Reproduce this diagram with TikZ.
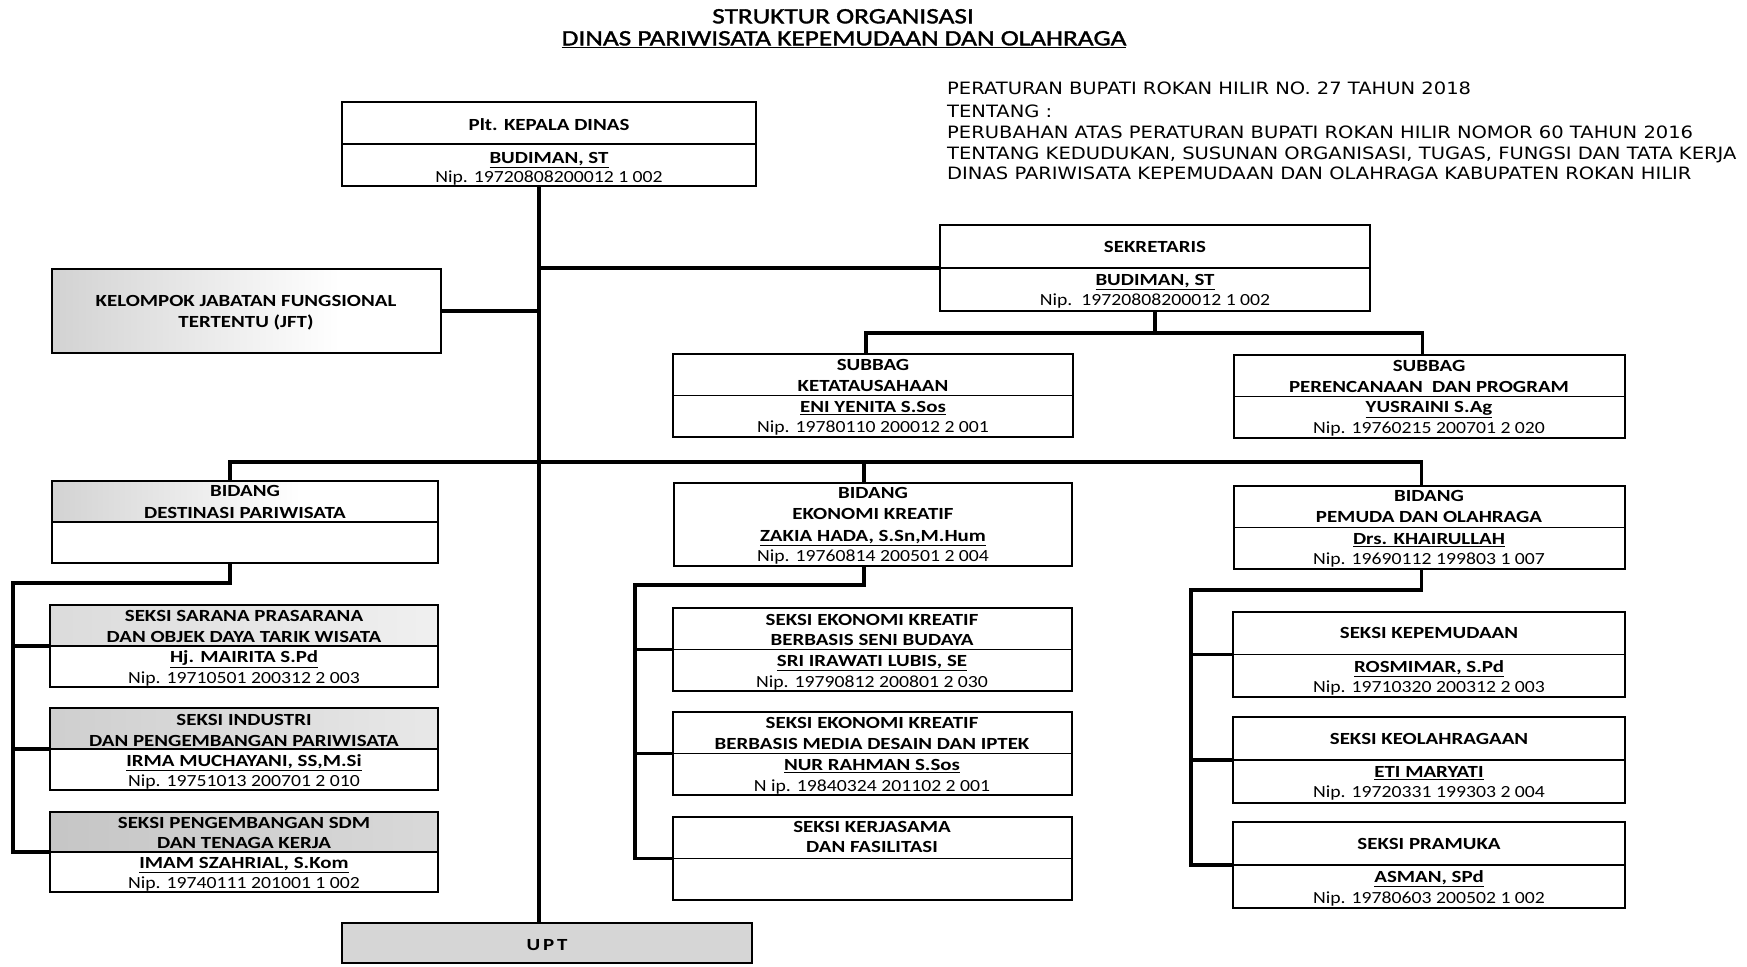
\documentclass[tikz,border=0pt]{standalone}
\usepackage{fontspec}
\setmainfont{Carlito}[FakeStretch=1.16, BoldFeatures={FakeStretch=1.23}]
\newfontfamily\titlefont{Carlito}[FakeStretch=1.24, FakeBold=1.5]
\newfontfamily\regfont{DejaVu Sans}[FakeStretch=1.148]
\usetikzlibrary{calc}
\tikzset{
  orgbox/.style={draw, line width=2.1pt, rectangle, inner sep=0pt, outer sep=0pt},
  divl/.style={line width=1.9pt},
  conn/.style={line width=3.1pt},
  tb/.style={font=\fontsize{17}{20}\selectfont\bfseries, inner sep=0pt, anchor=mid, yshift=-3.5pt},
  tn/.style={font=\fontsize{17}{20}\selectfont, inner sep=0pt, anchor=mid, yshift=-3.5pt},
  ttl/.style={font=\titlefont\fontsize{22}{26}\selectfont, inner sep=0pt, anchor=mid, yshift=-4pt},
  reg/.style={font=\regfont\fontsize{17}{20}\selectfont, inner sep=0pt, anchor=mid west, yshift=-4pt},
}
\newcommand\obox[5]{\node[orgbox, minimum width={(#4-#2)*1pt}, minimum height={(#5-#3)*1pt}] (#1) at ({(#2+#4)/2},{(#3+#5)/2}) {};}
\begin{document}
\begin{tikzpicture}[x=1pt,y=-1pt]
\fill[white] (0,0) rectangle (1747,966);
\useasboundingbox (0,0) rectangle (1747,966);

% shaded backgrounds
\shade[left color=gray!35, right color=white] (52,269) rectangle (340,353);
\shade[left color=gray!35, right color=white] (52,481) rectangle (300,522);
\shade[left color=gray!28, right color=gray!12] (50,605) rectangle (438,646);
\shade[left color=gray!38, right color=gray!18] (50,708) rectangle (438,749);
\shade[left color=gray!45, right color=gray!30] (50,812) rectangle (438,852);
\fill[gray!32] (342,923) rectangle (752,963);

% title
\node[ttl] (t1) at (843,17) {STRUKTUR ORGANISASI};
\node[ttl] (t2) at (844,39) {\underline{DINAS PARIWISATA KEPEMUDAAN DAN OLAHRAGA}};

% regulation
\node[reg] (r1) at (947,88) {PERATURAN BUPATI ROKAN HILIR NO. 27 TAHUN 2018};
\node[reg] (r2) at (947,111) {TENTANG :};
\node[reg] (r3) at (947,132) {PERUBAHAN ATAS PERATURAN BUPATI ROKAN HILIR NOMOR 60 TAHUN 2016};
\node[reg] (r4) at (947,153) {TENTANG KEDUDUKAN, SUSUNAN ORGANISASI, TUGAS, FUNGSI DAN TATA KERJA};
\node[reg] (r5) at (947,173) {DINAS PARIWISATA KEPEMUDAAN DAN OLAHRAGA KABUPATEN ROKAN HILIR};

% boxes
\obox{kd}{342}{102}{756}{186}
\obox{sek}{940}{225}{1370}{311}
\obox{jft}{52}{269}{441}{353}
\obox{sbk}{673}{354}{1073}{437}
\obox{sbp}{1234}{355}{1625}{438}
\obox{bdes}{52}{481}{438}{563}
\obox{bek}{674}{483}{1072}{566}
\obox{bpm}{1234}{486}{1625}{569}
\obox{sar}{50}{605}{438}{687}
\obox{ind}{50}{708}{438}{790}
\obox{sdm}{50}{812}{438}{892}
\obox{sbud}{673}{608}{1072}{691}
\obox{smed}{673}{712}{1072}{795}
\obox{sker}{673}{817}{1072}{900}
\obox{skep}{1233}{612}{1625}{697}
\obox{solr}{1233}{717}{1625}{803}
\obox{spra}{1233}{822}{1625}{908}
\obox{upt}{342}{923}{752}{963}

% dividers
\foreach \b in {kd,sek,sbk,sbp,bdes,bpm,sar,ind,sdm,sbud,smed,sker,skep,solr,spra}
  \draw[divl] (\b.west) -- (\b.east);

% connectors
\coordinate (tk) at (539,0);
\draw[conn] (kd.south -| tk) -- (upt.north -| tk);
\draw[conn] (sek.west -| tk) -- (sek.west);
\draw[conn] (jft.east) -- (jft.east -| tk);
\draw[conn] (sek.south) -- ++(0,22);
\draw[conn] ([xshift=-7pt]sbk.north) -- ++(0,-21) -| ([xshift=-7pt]sbp.north);
\draw[conn] ([xshift=-15pt]bdes.north) -- ++(0,-19) -| ([xshift=-8pt]bpm.north);
\draw[conn] ([xshift=-9pt]bek.north) -- ++(0,-21);
\draw[conn] ([xshift=-15pt]bdes.south) -- ++(0,20) -| ([xshift=-37pt]sdm.west) -- (sdm.west);
\draw[conn] (sar.west) -- ++(-37,0);
\draw[conn] (ind.west) -- ++(-37,0);
\draw[conn] ([xshift=-9pt]bek.south) -- ++(0,19) -| ([xshift=-38pt]sker.west) -- (sker.west);
\draw[conn] (sbud.west) -- ++(-38,0);
\draw[conn] (smed.west) -- ++(-38,0);
\draw[conn] ([xshift=-8pt]bpm.south) -- ++(0,21) -| ([xshift=-42pt]spra.west) -- (spra.west);
\draw[conn] (skep.west) -- ++(-42,0);
\draw[conn] (solr.west) -- ++(-42,0);

% texts
\node[tb] (kd1) at (549,125) {Plt. KEPALA DINAS};
\node[tb] (kd2) at (549,158) {\underline{BUDIMAN, ST}};
\node[tn] (kd3) at (549,177) {Nip. 19720808200012 1 002};

\node[tb] (sek1) at (1155,247) {SEKRETARIS};
\node[tb] (sek2) at (1155,280) {\underline{BUDIMAN, ST}};
\node[tn] (sek3) at (1155,300) {Nip.\ \ 19720808200012 1 002};

\node[tb] (jft1) at (246,301) {KELOMPOK JABATAN FUNGSIONAL};
\node[tb] (jft2) at (246,322) {TERTENTU (JFT)};

\node[tb] (sbk1) at (873,365) {SUBBAG};
\node[tb] (sbk2) at (873,386) {KETATAUSAHAAN};
\node[tb] (sbk3) at (873,407) {\underline{ENI YENITA S.Sos}};
\node[tn] (sbk4) at (873,427) {Nip. 19780110 200012 2 001};

\node[tb] (sbp1) at (1429,366) {SUBBAG};
\node[tb] (sbp2) at (1429,387) {PERENCANAAN\ \ DAN PROGRAM};
\node[tb] (sbp3) at (1429,407) {\underline{YUSRAINI S.Ag}};
\node[tn] (sbp4) at (1429,428) {Nip. 19760215 200701 2 020};

\node[tb] (bdes1) at (245,491) {BIDANG};
\node[tb] (bdes2) at (245,513) {DESTINASI PARIWISATA};

\node[tb] (bek1) at (873,493) {BIDANG};
\node[tb] (bek2) at (873,514) {EKONOMI KREATIF};
\node[tb] (bek3) at (873,536) {\underline{ZAKIA HADA, S.Sn,M.Hum}};
\node[tn] (bek4) at (873,556) {Nip. 19760814 200501 2 004};

\node[tb] (bpm1) at (1429,496) {BIDANG};
\node[tb] (bpm2) at (1429,517) {PEMUDA DAN OLAHRAGA};
\node[tb] (bpm3) at (1429,539) {\underline{Drs. KHAIRULLAH}};
\node[tn] (bpm4) at (1429,559) {Nip. 19690112 199803 1 007};

\node[tb] (sar1) at (244,616) {SEKSI SARANA PRASARANA};
\node[tb] (sar2) at (244,637) {DAN OBJEK DAYA TARIK WISATA};
\node[tb] (sar3) at (244,657) {\underline{Hj. MAIRITA S.Pd}};
\node[tn] (sar4) at (244,678) {Nip. 19710501 200312 2 003};

\node[tb] (ind1) at (244,720) {SEKSI INDUSTRI};
\node[tb] (ind2) at (244,741) {DAN PENGEMBANGAN PARIWISATA};
\node[tb] (ind3) at (244,761) {\underline{IRMA MUCHAYANI, SS,M.Si}};
\node[tn] (ind4) at (244,781) {Nip. 19751013 200701 2 010};

\node[tb] (sdm1) at (244,823) {SEKSI PENGEMBANGAN SDM};
\node[tb] (sdm2) at (244,843) {DAN TENAGA KERJA};
\node[tb] (sdm3) at (244,863) {\underline{IMAM SZAHRIAL, S.Kom}};
\node[tn] (sdm4) at (244,883) {Nip. 19740111 201001 1 002};

\node[tb] (sbud1) at (872,620) {SEKSI EKONOMI KREATIF};
\node[tb] (sbud2) at (872,640) {BERBASIS SENI BUDAYA};
\node[tb] (sbud3) at (872,661) {\underline{SRI IRAWATI LUBIS, SE}};
\node[tn] (sbud4) at (872,682) {Nip. 19790812 200801 2 030};

\node[tb] (smed1) at (872,723) {SEKSI EKONOMI KREATIF};
\node[tb] (smed2) at (872,744) {BERBASIS MEDIA DESAIN DAN IPTEK};
\node[tb] (smed3) at (872,765) {\underline{NUR RAHMAN S.Sos}};
\node[tn] (smed4) at (872,786) {N ip. 19840324 201102 2 001};

\node[tb] (sker1) at (872,827) {SEKSI KERJASAMA};
\node[tb] (sker2) at (872,847) {DAN FASILITASI};

\node[tb] (skep1) at (1429,633) {SEKSI KEPEMUDAAN};
\node[tb] (skep2) at (1429,667) {\underline{ROSMIMAR, S.Pd}};
\node[tn] (skep3) at (1429,687) {Nip. 19710320 200312 2 003};

\node[tb] (solr1) at (1429,739) {SEKSI KEOLAHRAGAAN};
\node[tb] (solr2) at (1429,772) {\underline{ETI MARYATI}};
\node[tn] (solr3) at (1429,792) {Nip. 19720331 199303 2 004};

\node[tb] (spra1) at (1429,844) {SEKSI PRAMUKA};
\node[tb] (spra2) at (1429,877) {\underline{ASMAN, SPd}};
\node[tn] (spra3) at (1429,898) {Nip. 19780603 200502 1 002};

\node[tb] (upt1) at (547,945) {U\,P\,T};
\end{tikzpicture}
\end{document}
